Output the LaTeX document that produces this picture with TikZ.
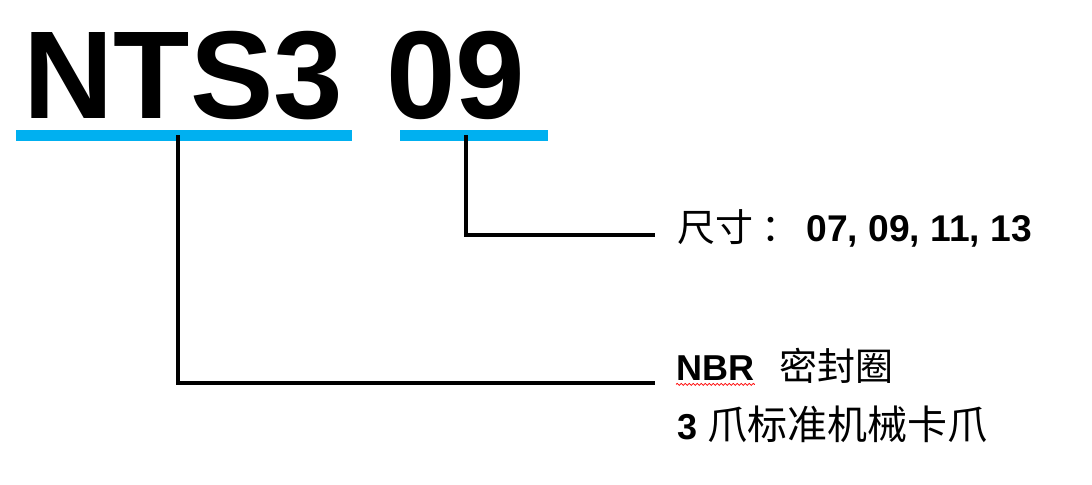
\documentclass[tikz,border=0pt]{standalone}
\usepackage{fontspec}
\setmainfont{Liberation Sans}
\newfontfamily\cjk{Noto Sans CJK SC}
\usepackage{xcolor}
\usepackage{tikz}
\usetikzlibrary{decorations.pathmorphing}
\definecolor{barblue}{RGB}{0,176,240}
\newcommand{\zh}[1]{{\cjk\fontsize{19}{22}\selectfont #1}}

\begin{document}
\begin{tikzpicture}[
      x=0.5pt, y=-0.5pt,
      title/.style={font=\fontsize{62.5}{75}\selectfont\bfseries, inner sep=0pt, anchor=base west},
      bar/.style={fill=barblue, inner sep=0pt, minimum height=5.5pt},
      leader/.style={draw=black, line width=2pt, line join=miter},
      lab/.style={font=\fontsize{18}{22}\selectfont, inner sep=0pt, anchor=base west},
      spell/.style={draw=red, line width=0.4pt, decorate, decoration={snake, amplitude=0.5pt, segment length=2pt}}
    ]
      \useasboundingbox (0,0) rectangle (1092,485);

      % part number
      \node[title] (series) at (23,119) {NTS3};
      \node[title] (size) at (386,119) {09};

      % underlines
      \node[bar, minimum width=168pt] (barA) at (184,135.5) {};
      \node[bar, minimum width=74pt] (barB) at (474,135.5) {};

      % labels
      \node[lab] (sizelab) at (677,242) {\zh{尺寸\hspace{4pt}：}};
      \node[lab, font=\fontsize{18.6}{22}\selectfont] (sizes) at (806,242) {\bfseries 07, 09, 11, 13};
      \node[lab] (nbr) at (676,381) {\bfseries NBR};
      \node[lab] (seal) at (779,381) {\zh{密封圈}};
      \node[lab] (claw) at (677,440) {\bfseries 3 {\cjk\mdseries\fontsize{20}{22}\selectfont 爪标准机械卡爪}};
      \draw[spell] ([yshift=-1.5pt]nbr.south west) -- ([yshift=-1.5pt]nbr.south east);

      % leaders
      \coordinate (tipB) at (655,235);
      \coordinate (tipA) at (655,383);
      \draw[leader] ([xshift=-4pt]barB.center) |- (tipB);
      \draw[leader] ([xshift=-3pt]barA.center) |- (tipA);
    \end{tikzpicture}
\end{document}
